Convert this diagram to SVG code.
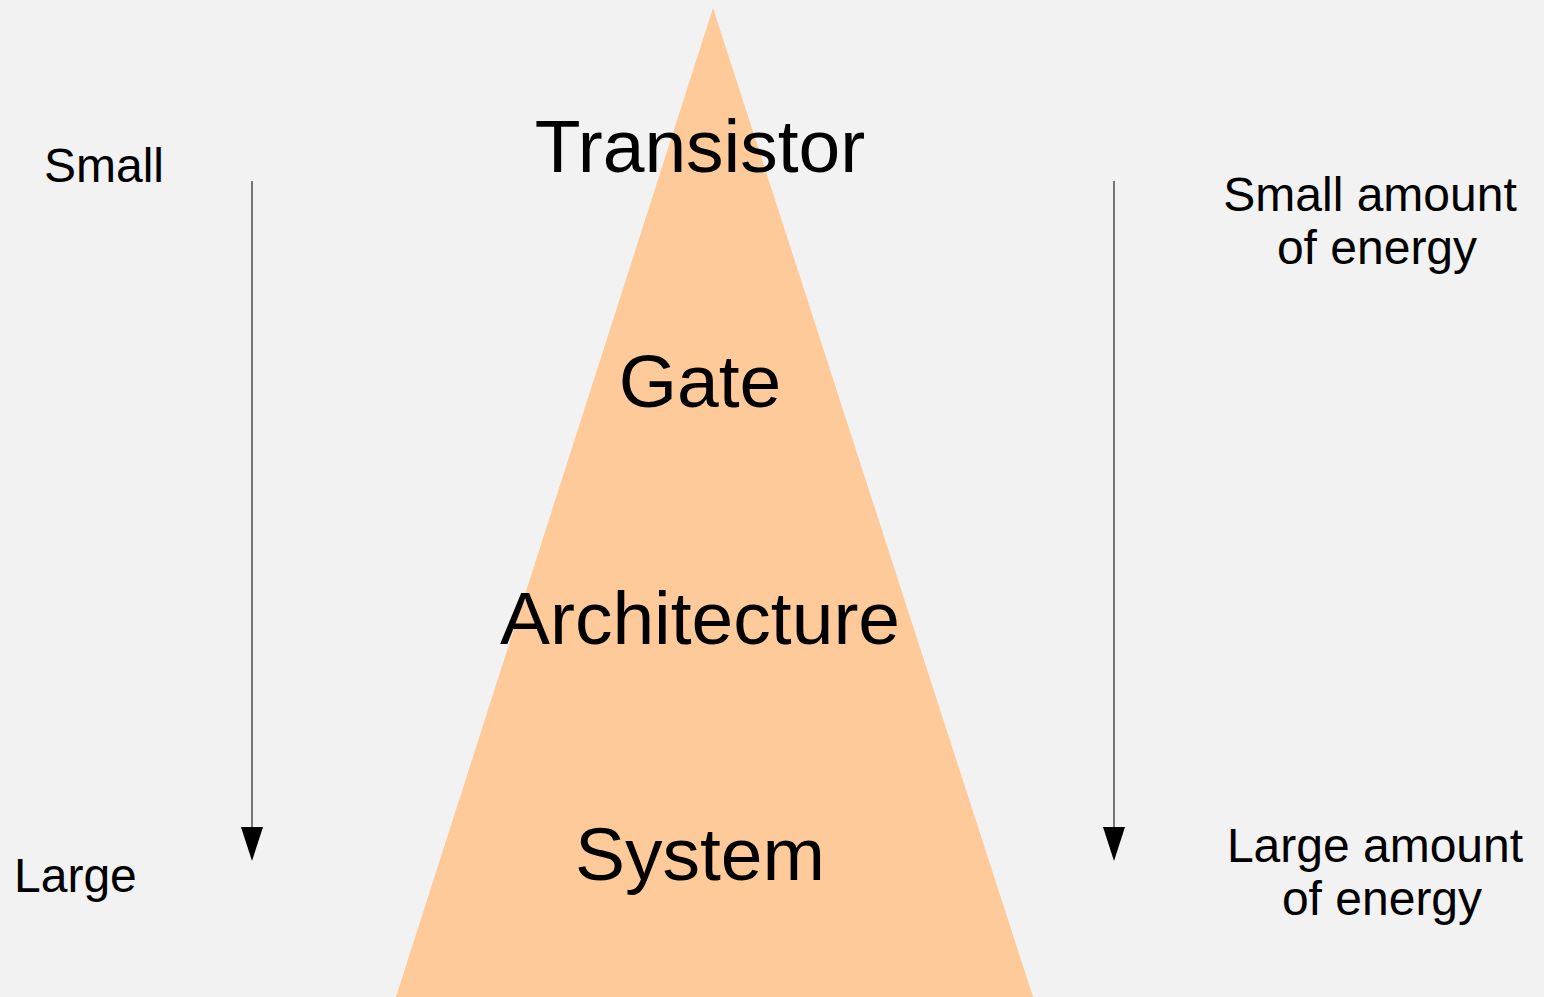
<svg xmlns="http://www.w3.org/2000/svg" width="1544" height="997" viewBox="0 0 1544 997">
  <style>
    .lbl { font-family: "Liberation Sans", Arial, sans-serif; fill: #000; }
    .big { font-size: 75px; text-anchor: middle; }
    .side { font-size: 48px; }
    .mid { text-anchor: middle; }
    .axis { stroke: #222; stroke-width: 1.2; fill: none; }
    .head { fill: #000; }
  </style>
  <rect width="1544" height="997" fill="#f2f2f2"/>

  <!-- pyramid of abstraction levels -->
  <g id="pyramid">
    <polygon points="713,8 1034,1000 395,1000" fill="#ffca99"/>
  </g>

  <g id="transistor"><text class="lbl big" x="700" y="172">Transistor</text></g>
  <g id="gate"><text class="lbl big" x="700" y="407">Gate</text></g>
  <g id="architecture"><text class="lbl big" x="700" y="644">Architecture</text></g>
  <g id="system"><text class="lbl big" x="700" y="880">System</text></g>

  <!-- size scale on the left -->
  <g id="size-small"><text class="lbl side" x="44" y="182">Small</text></g>
  <g id="size-large"><text class="lbl side" x="14" y="892">Large</text></g>

  <!-- energy scale on the right -->
  <g id="energy-small">
    <text class="lbl side mid" x="1370" y="211">Small amount</text>
    <text class="lbl side mid" x="1377" y="264">of energy</text>
  </g>
  <g id="energy-large">
    <text class="lbl side mid" x="1375" y="862">Large amount</text>
    <text class="lbl side mid" x="1382" y="915">of energy</text>
  </g>

  <!-- downward arrows -->
  <g id="connectors">
    <line class="axis" x1="252" y1="181" x2="252" y2="828"/>
    <polygon class="head" points="241,827 263,827 252,861"/>
    <line class="axis" x1="1114" y1="181" x2="1114" y2="828"/>
    <polygon class="head" points="1103,827 1125,827 1114,861"/>
  </g>
</svg>
